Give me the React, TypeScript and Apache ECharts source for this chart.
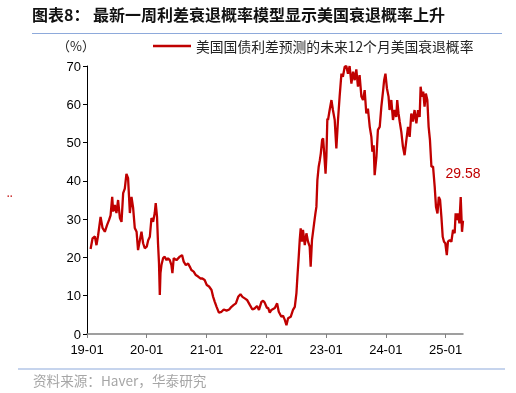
import React, { useEffect, useRef } from "react";
import * as echarts from "echarts";

const TITLE = "图表8： 最新一周利差衰退概率模型显示美国衰退概率上升";
const SERIES_NAME = "美国国债利差预测的未来12个月美国衰退概率";
const SOURCE = "资料来源：Haver，华泰研究";
const UNIT = "（%）";

const dates: string[] = [
  "2019-01-23","2019-02-04","2019-02-18","2019-02-28","2019-03-10","2019-03-25","2019-04-06","2019-04-20","2019-05-04","2019-05-16",
  "2019-05-25","2019-06-04","2019-06-10","2019-06-20","2019-06-30","2019-07-10","2019-07-21","2019-07-31","2019-08-10","2019-08-20",
  "2019-08-30","2019-09-09","2019-09-15","2019-09-20","2019-09-30","2019-10-10","2019-10-20","2019-10-31","2019-11-09","2019-11-20",
  "2019-11-30","2019-12-10","2019-12-20",
  "2020-01-01","2020-01-10","2020-01-20","2020-01-30","2020-02-09","2020-02-19","2020-02-25","2020-03-04","2020-03-10","2020-03-16",
  "2020-03-21","2020-03-25","2020-03-31","2020-04-10","2020-04-20","2020-05-01","2020-05-10","2020-05-21","2020-05-31","2020-06-06",
  "2020-06-14","2020-07-01","2020-07-21","2020-08-04","2020-08-14","2020-08-27","2020-09-10","2020-09-20","2020-09-30","2020-10-14",
  "2020-10-27","2020-11-10","2020-11-24","2020-12-06","2020-12-20",
  "2021-01-02","2021-01-16","2021-01-31","2021-02-10","2021-02-20","2021-03-03","2021-03-17","2021-04-02","2021-04-16","2021-05-03",
  "2021-05-19","2021-06-02","2021-06-16","2021-06-29","2021-07-13","2021-07-27","2021-08-08","2021-08-22","2021-09-05","2021-09-22",
  "2021-10-08","2021-10-22","2021-11-05","2021-11-17","2021-12-02","2021-12-12","2021-12-22",
  "2022-01-05","2022-01-12","2022-01-22","2022-02-01","2022-02-22","2022-03-08","2022-03-18","2022-04-03","2022-04-13","2022-04-24",
  "2022-05-04","2022-05-14","2022-05-30","2022-06-13","2022-06-24","2022-07-04","2022-07-10","2022-07-18","2022-07-24","2022-07-30",
  "2022-08-07","2022-08-13","2022-08-24","2022-09-03","2022-09-13","2022-09-23","2022-09-29","2022-10-07","2022-10-20","2022-10-28",
  "2022-11-03","2022-11-09","2022-11-17","2022-11-24","2022-11-30","2022-12-08","2022-12-14","2022-12-20","2022-12-29",
  "2023-01-03","2023-01-09","2023-01-13","2023-01-23","2023-02-03","2023-02-12","2023-02-23","2023-02-27","2023-03-05","2023-03-15",
  "2023-03-25","2023-04-05","2023-04-14","2023-04-25","2023-05-05","2023-05-15","2023-05-25","2023-06-05","2023-06-15","2023-06-25",
  "2023-07-05","2023-07-15","2023-07-25","2023-08-05","2023-08-15","2023-08-25","2023-09-04","2023-09-14","2023-09-25","2023-10-05",
  "2023-10-11","2023-10-19","2023-10-25","2023-11-05","2023-11-14","2023-11-25","2023-12-05","2023-12-16","2023-12-22","2023-12-30",
  "2024-01-08","2024-01-18","2024-01-24","2024-02-04","2024-02-14","2024-02-24","2024-03-05","2024-03-11","2024-03-19","2024-03-26",
  "2024-04-05","2024-04-15","2024-04-25","2024-05-06","2024-05-16","2024-05-26","2024-06-05","2024-06-15","2024-06-25","2024-07-06",
  "2024-07-16","2024-07-26","2024-08-01","2024-08-09","2024-08-17","2024-08-25","2024-09-02","2024-09-11","2024-09-19","2024-09-27",
  "2024-10-06","2024-10-16","2024-10-26","2024-11-03","2024-11-12","2024-11-20","2024-11-28","2024-12-06","2024-12-14","2024-12-22",
  "2024-12-30",
  "2025-01-08","2025-01-15","2025-01-26","2025-02-05","2025-02-15","2025-02-25","2025-03-03","2025-03-11","2025-03-17","2025-03-26",
  "2025-04-03","2025-04-11","2025-04-17",
];

const values: number[] = [
  22.2,25.0,25.5,23.2,25.8,30.6,27.7,26.7,28.5,29.8,
  31.0,35.8,32.0,33.7,31.6,35.0,30.3,29.3,36.8,38.0,
  41.8,40.7,35.8,31.6,35.8,32.9,27.7,26.7,21.9,24.5,
  26.7,23.7,22.4,
  22.8,24.5,25.4,30.3,29.3,31.6,34.2,30.6,23.7,18.5,
  10.2,15.9,18.0,19.8,20.2,19.3,19.8,19.3,18.0,15.9,
  19.8,19.3,20.2,20.6,18.9,18.0,18.4,17.6,16.7,16.3,
  15.4,15.0,14.5,14.5,14.1,
  12.8,12.4,11.5,9.7,8.4,7.1,5.6,5.8,6.4,6.1,
  6.4,7.1,7.6,8.0,9.7,10.4,9.7,9.3,8.9,7.6,
  6.4,6.7,7.3,6.3,8.4,8.7,8.2,
  6.8,6.8,5.6,6.3,6.8,8.0,5.8,4.5,4.8,3.7,
  2.3,4.1,4.5,6.3,7.1,10.7,15.0,20.2,24.5,27.6,
  24.1,27.2,23.2,26.3,24.1,22.8,17.6,24.5,28.9,31.5,
  33.2,40.2,43.7,45.4,47.2,50.7,51.1,47.6,41.9,
  46.3,56.3,55.9,58.5,61.1,58.5,55.9,52.8,48.5,55.9,
  62.0,68.0,67.2,69.8,70.0,68.0,70.0,65.4,68.5,66.3,
  69.1,64.6,67.6,62.0,61.1,63.7,57.6,58.9,54.1,51.5,
  47.6,49.3,41.5,46.3,53.3,54.1,59.4,63.7,66.3,68.0,
  64.2,62.0,58.5,61.1,55.9,58.5,56.7,61.1,57.6,55.5,
  52.8,48.9,46.7,50.7,54.1,51.5,57.6,55.5,58.5,55.0,
  58.5,56.7,64.6,62.0,63.3,59.4,62.8,61.1,54.1,50.7,
  43.7,43.7,38.5,33.2,31.5,35.8,35.0,30.6,25.4,24.1,
  23.7,
  20.6,24.1,24.5,24.1,27.2,26.3,31.5,29.8,31.5,28.9,
  35.8,26.7,29.58,
];

const RED = "#c00000";
const LATIN = "'Liberation Sans', Arial, sans-serif";
const CJK = "'Noto Sans CJK SC', 'Liberation Sans', sans-serif";

export default function App() {
  const ref = useRef<HTMLDivElement>(null);
  useEffect(() => {
    if (!ref.current) return;
    const chart = echarts.init(ref.current, null, { renderer: "svg" });
    const last = values.length - 1;
    const seriesData = dates.map((d, i) => [d, values[i]]);
    const YEAR = 365 * 24 * 3600 * 1000;
    chart.setOption({
      animation: false,
      title: {
        text: TITLE,
        left: 32,
        top: 4,
        padding: 0,
        textStyle: {
          fontSize: 16,
          fontWeight: "bold",
          fontFamily: CJK,
          color: "#111",
          lineHeight: 20,
        },
      },
      legend: {
        left: 153,
        top: 39,
        padding: 0,
        icon: "rect",
        itemWidth: 38,
        itemHeight: 2.5,
        data: [SERIES_NAME],
        textStyle: { fontSize: 13.8, fontFamily: CJK, color: "#222" },
      },
      grid: { left: 87, right: 53, top: 66, bottom: 59, containLabel: false },
      xAxis: {
        type: "time",
        min: "2019-01-01",
        max: "2025-04-17",
        minInterval: YEAR,
        maxInterval: YEAR * 1.01,
        axisLine: { show: true, lineStyle: { color: "#808080", width: 1.5 } },
        axisTick: { show: true, length: 4, lineStyle: { color: "#808080" } },
        minorTick: { show: false },
        splitLine: { show: false },
        axisLabel: {
          formatter: "{yy}-{MM}",
          color: "#000",
          fontSize: 13,
          fontFamily: LATIN,
          margin: 9,
          showMaxLabel: false,
        },
      },
      yAxis: {
        type: "value",
        min: 0,
        max: 70,
        interval: 10,
        axisLine: { show: true, lineStyle: { color: "#000", width: 1 } },
        axisTick: { show: true, length: 4, lineStyle: { color: "#000" } },
        splitLine: { show: false },
        axisLabel: { color: "#000", fontSize: 13, fontFamily: LATIN, margin: 6 },
      },
      series: [
        {
          name: SERIES_NAME,
          type: "line",
          data: seriesData,
          showSymbol: false,
          symbol: "none",
          lineStyle: { color: RED, width: 2.3 },
          itemStyle: { color: RED },
          clip: true,
          markPoint: {
            symbol: "circle",
            symbolSize: 1,
            itemStyle: { color: "rgba(0,0,0,0)" },
            data: [
              {
                coord: [dates[last], values[last]],
                value: values[last],
              },
            ],
            label: {
              show: true,
              position: "top",
              distance: 40,
              formatter: (p: any) => Number(p.value).toFixed(2),
              color: RED,
              fontSize: 14,
              fontFamily: LATIN,
            },
          },
        },
      ],
      graphic: [
        {
          type: "line",
          shape: { x1: 32, y1: 33.5, x2: 502, y2: 33.5 },
          style: { stroke: "#8eaadb", lineWidth: 1.2 },
        },
        {
          type: "line",
          shape: { x1: 18, y1: 369, x2: 505, y2: 369 },
          style: { stroke: "#8eaadb", lineWidth: 1.2 },
        },
        {
          type: "text",
          left: 57,
          top: 39,
          style: { text: UNIT, fontSize: 13, fontFamily: CJK, fill: "#222" },
        },
        {
          type: "text",
          left: 33,
          top: 373,
          style: { text: SOURCE, fontSize: 13.6, fontFamily: CJK, fill: "#a6a6a6" },
        },
        { type: "rect", shape: { x: 7.5, y: 195.5, width: 1.5, height: 1.2 }, style: { fill: RED } },
        { type: "rect", shape: { x: 10.5, y: 195.5, width: 1.5, height: 1.2 }, style: { fill: RED } },
      ],
    });
    return () => chart.dispose();
  }, []);
  return (
    <div
      ref={ref}
      style={{ position: "fixed", left: 0, top: 0, width: 516, height: 393 }}
    />
  );
}
